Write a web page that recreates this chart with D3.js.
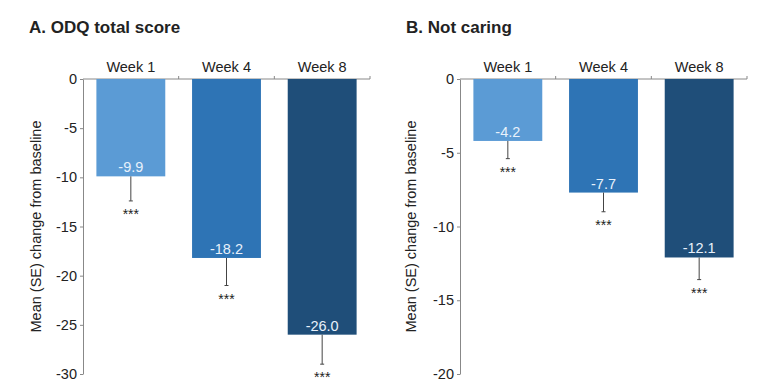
<!DOCTYPE html>
<meta charset="utf-8">
<style>
    body { margin: 0; background: #fff; }
    text { font-family: "Liberation Sans", Arial, sans-serif; fill: #222; }
    .title { font-size: 17px; font-weight: bold; }
    .axis path, .axis line { stroke: #888; }
</style>

<svg width="773" height="388"></svg>

<script src="https://d3js.org/d3.v7.min.js"></script>

<script>
    var weeks = ["Week 1", "Week 4", "Week 8"];
    var colors = ["#5b9bd5", "#2e74b5", "#1f4e79"];

    // panel A: ODQ total score
    var odqMean = [-9.9, -18.2, -26.0];
    var odqLow = [-12.4, -21.0, -29.0];
    var odqTicks = [0, -5, -10, -15, -20, -25, -30];

    // panel B: not caring
    var ncMean = [-4.2, -7.7, -12.1];
    var ncLow = [-5.4, -9.0, -13.6];
    var ncTicks = [0, -5, -10, -15, -20];

    var stars = ["***", "***", "***"];

    var svg = d3.select("svg");
    var fs = "14.5px";

    function panel(opt) {
        var g = svg.append("g");

        g.append("text")
            .attr("class", "title")
            .attr("x", opt.titleX)
            .attr("y", 33)
            .text(opt.title);

        var x = d3.scaleBand()
            .domain(weeks)
            .range([opt.left, opt.right])
            .paddingInner(0.28)
            .paddingOuter(0.14);

        var y = d3.scaleLinear()
            .domain([0, opt.min])
            .range([79, 374]);

        var step = x.step();

        // top category axis
        var top = g.append("g").attr("class", "axis");
        top.append("line")
            .attr("x1", opt.left).attr("x2", opt.right)
            .attr("y1", y(0)).attr("y2", y(0));
        d3.range(1, weeks.length + 1).forEach(function (i) {
            top.append("line")
                .attr("x1", opt.left + i * step).attr("x2", opt.left + i * step)
                .attr("y1", y(0)).attr("y2", y(0) - 3);
        });
        top.selectAll("text.cat")
            .data(weeks)
            .enter().append("text")
            .attr("class", "cat")
            .attr("x", function (d) { return x(d) + x.bandwidth() / 2; })
            .attr("y", 71.5)
            .attr("text-anchor", "middle")
            .style("font-size", fs)
            .text(function (d) { return d; });

        // left value axis
        var ax = g.append("g")
            .attr("class", "axis")
            .attr("transform", "translate(" + opt.left + ",0)")
            .call(d3.axisLeft(y).tickValues(opt.ticks)
                .tickFormat(function (d) { return String(d); })
                .tickSize(3).tickSizeOuter(0).tickPadding(3));
        ax.selectAll("text").style("font-size", fs).attr("fill", "#222");

        g.append("text")
            .attr("transform", "translate(" + opt.labelX + "," + (y(0) + y(opt.min)) / 2 + ") rotate(-90)")
            .attr("text-anchor", "middle")
            .style("font-size", fs)
            .text("Mean (SE) change from baseline");

        var rows = weeks.map(function (w, i) {
            return { week: w, mean: opt.mean[i], low: opt.low[i], color: colors[i], star: stars[i] };
        });

        g.selectAll("rect.bar")
            .data(rows)
            .enter().append("rect")
            .attr("class", "bar")
            .attr("x", function (d) { return x(d.week); })
            .attr("y", y(0))
            .attr("width", x.bandwidth())
            .attr("height", function (d) { return y(d.mean) - y(0); })
            .attr("fill", function (d) { return d.color; });

        // error bars
        g.selectAll("line.err")
            .data(rows)
            .enter().append("line")
            .attr("class", "err")
            .attr("x1", function (d) { return x(d.week) + x.bandwidth() / 2; })
            .attr("x2", function (d) { return x(d.week) + x.bandwidth() / 2; })
            .attr("y1", function (d) { return y(d.mean); })
            .attr("y2", function (d) { return y(d.low); })
            .attr("stroke", "#444").attr("stroke-width", 1);
        g.selectAll("line.cap")
            .data(rows)
            .enter().append("line")
            .attr("class", "cap")
            .attr("x1", function (d) { return x(d.week) + x.bandwidth() / 2 - 2; })
            .attr("x2", function (d) { return x(d.week) + x.bandwidth() / 2 + 2; })
            .attr("y1", function (d) { return y(d.low); })
            .attr("y2", function (d) { return y(d.low); })
            .attr("stroke", "#444").attr("stroke-width", 1);

        g.selectAll("text.val")
            .data(rows)
            .enter().append("text")
            .attr("class", "val")
            .attr("x", function (d) { return x(d.week) + x.bandwidth() / 2; })
            .attr("y", function (d) { return y(d.mean) - 4; })
            .attr("text-anchor", "middle")
            .style("font-size", fs)
            .style("fill", "#e8f1fb")
            .text(function (d) { return d.mean.toFixed(1); });

        g.selectAll("text.star")
            .data(rows)
            .enter().append("text")
            .attr("class", "star")
            .attr("x", function (d) { return x(d.week) + x.bandwidth() / 2; })
            .attr("y", function (d) { return y(d.low) + 18; })
            .attr("text-anchor", "middle")
            .style("font-size", "14px")
            .style("fill", "#222")
            .text(function (d) { return d.star; });
    }

    panel({ title: "A. ODQ total score", titleX: 29, left: 83, right: 370, labelX: 41,
            mean: odqMean, low: odqLow, ticks: odqTicks, min: -30 });
    panel({ title: "B. Not caring", titleX: 406, left: 460, right: 747, labelX: 416,
            mean: ncMean, low: ncLow, ticks: ncTicks, min: -20 });
</script>
